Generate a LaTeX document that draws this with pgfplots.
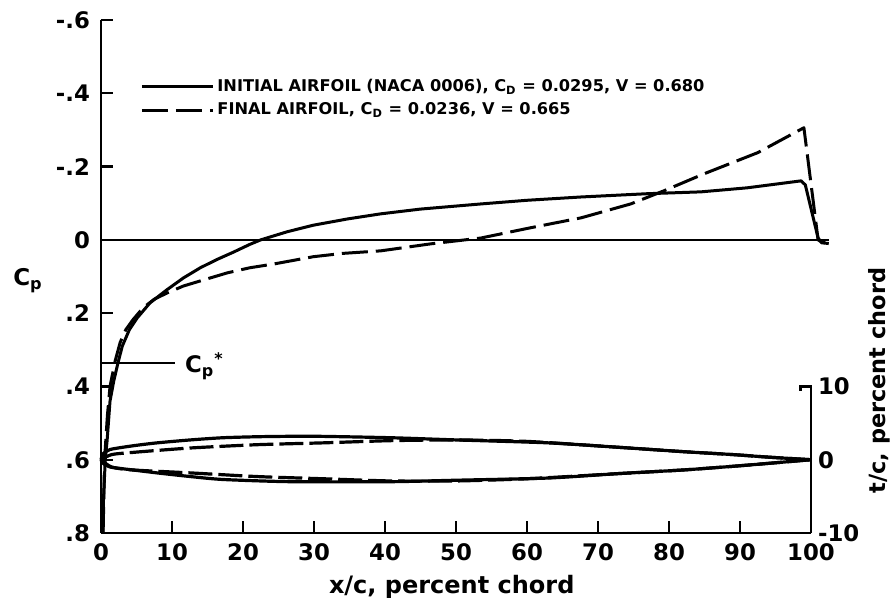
\documentclass[border=0pt]{standalone}
\usepackage{fontspec}
\setmainfont{DejaVu Sans}
\usepackage{pgfplots}
\pgfplotsset{compat=1.18}
\begin{document}
\begin{tikzpicture}
\useasboundingbox (-50.5pt,-35.5pt) rectangle (396.5pt,266.5pt);
\begin{axis}[
  at={(0,0)}, anchor=south west,
  scale only axis, width=355pt, height=256.5pt,
  xmin=0, xmax=100, ymin=-0.6, ymax=0.8, y dir=reverse,
  axis x line=bottom, axis y line=left,
  axis line style={-, line width=1.4pt},
  clip=false,
  tick align=inside, major tick length=6pt,
  tick style={line width=1.2pt, black},
  xtick={0,10,...,100}, xticklabels={0,10,20,30,40,50,60,70,80,90,100},
  ytick={-0.6,-0.4,-0.2,0,0.2,0.4,0.6,0.8}, yticklabels={-.6,-.4,-.2,0,.2,.4,.6,.8},
  ticklabel style={font=\bfseries\fontsize{11.4}{13}\selectfont},
  yticklabel style={xshift=-2pt},
  xticklabel style={yshift=-2pt},
  legend style={at={(0.055,0.891)}, anchor=north west, draw=none, fill=none,
    font=\bfseries\fontsize{8.1}{9.5}\selectfont, row sep=1.1pt, inner sep=0pt,
    nodes={inner sep=1.5pt}},
  legend cell align=left,
  legend image code/.code={\draw[#1] (0pt,0pt) -- (35.5pt,0pt);},
]
% initial airfoil Cp
\addplot[black, line width=1.5pt, line join=round] coordinates {
(0.25,0.80) (0.35,0.71) (0.6,0.60) (0.85,0.55) (1.27,0.44) (1.8,0.385) (2.4,0.335)
(3.0,0.29) (4.0,0.245) (5.1,0.213) (6.9,0.172) (9.3,0.136) (11.6,0.104) (14,0.076)
(16.4,0.053) (18.6,0.034) (21,0.012) (22.5,0.0) (26.2,-0.022) (29.9,-0.04) (34.7,-0.057)
(39.4,-0.071) (45,-0.084) (53.5,-0.098) (60,-0.108) (67.6,-0.117) (77,-0.126)
(84.5,-0.131) (91,-0.142) (98.6,-0.161) (99.2,-0.150) (101,-0.005)
(101.5,0.008) (102.5,0.01)};
\addlegendentry{INITIAL AIRFOIL (NACA 0006), C\textsubscript{D} = 0.0295, V = 0.680}
% final airfoil Cp
\addplot[black, line width=1.5pt, line join=round, dash pattern=on 13pt off 4pt] coordinates {
(0.3,0.8) (0.5,0.6) (0.9,0.48) (1.27,0.40) (2.0,0.33) (2.7,0.28) (3.5,0.245)
(4.5,0.218) (5.9,0.186) (7.5,0.162) (9.3,0.145) (11.6,0.126) (14,0.112) (17.8,0.09)
(21,0.076) (24.3,0.066) (29.9,0.046) (34,0.037) (39.4,0.03) (46.4,0.011) (53.5,-0.005)
(60.5,-0.033) (67.6,-0.06) (74.6,-0.098) (79.3,-0.134) (84.9,-0.18) (92.5,-0.238)
(99,-0.306) (101,0) (101.5,0.006) (102.5,0.01)};
\addlegendentry{FINAL AIRFOIL, C\textsubscript{D} = 0.0236, V = 0.665}
% reference lines
\addplot[black, line width=1pt, forget plot] coordinates {(0,0) (102.5,0)};
\addplot[black, line width=1pt, forget plot] coordinates {(0,0.336) (10.4,0.336)};
\node[anchor=west, inner sep=0pt, font=\bfseries\fontsize{11.4}{13}\selectfont] at (axis cs:11.8,0.345) {C\textsubscript{p}\textsuperscript{*}};
\node[font=\bfseries\fontsize{11.5}{13}\selectfont] at ([xshift=-36.5pt]axis cs:0,0.112) {C\textsubscript{p}};
\node[font=\bfseries\fontsize{12}{14}\selectfont] at ([yshift=-27pt]axis cs:49.4,0.8) {x/c, percent chord};
\end{axis}
\begin{axis}[
  at={(0,0)}, anchor=south west,
  scale only axis, width=355pt, height=256.5pt,
  xmin=0, xmax=100, ymin=-10, ymax=60,
  axis x line=none, axis y line*=right,
  y axis line style={draw=none},
  clip=false,
  tick align=inside, major tick length=5pt,
  tick style={line width=1.2pt, black},
  ytick={-10,0,10}, yticklabels={-10,0,10},
  ticklabel style={font=\bfseries\fontsize{11.4}{13}\selectfont},
]
\addplot[black, line width=1.3pt] coordinates {(98.5,9.4) (98.5,10) (100,10) (100,-10)};
% initial airfoil
\addplot[black, line width=1.6pt, smooth, tension=0.4] coordinates {
(0,0) (0.3,0.8) (1.3,1.4) (4.5,1.9) (7.9,2.3) (12.6,2.7) (17.2,3.0) (22.8,3.15) (30,3.2)
(40.8,3.0) (50,2.7) (63,2.3) (72.8,1.7) (82,1.1) (89,0.7) (94,0.35) (100,0)};
\addplot[black, line width=1.6pt, smooth, tension=0.4] coordinates {
(0,0) (0.3,-0.5) (1.3,-1.0) (4.5,-1.4) (7.9,-1.8) (12.6,-2.3) (17.2,-2.7) (26.7,-3.0)
(40.8,-3.0) (50,-2.8) (63,-2.5) (72.8,-1.9) (82,-1.4) (89,-0.9) (94,-0.5) (100,0)};
% final airfoil
\addplot[black, line width=1.6pt, smooth, tension=0.4, dash pattern=on 12pt off 3pt] coordinates {
(0,0) (1.5,0.7) (4.5,1.0) (12.6,1.6) (22,2.05) (31.3,2.3) (40.8,2.6) (50,2.7) (60,2.5)
(72.8,1.7) (82,1.1) (89,0.7) (94,0.35) (100,0)};
\addplot[black, line width=1.6pt, smooth, tension=0.4, dash pattern=on 12pt off 3pt] coordinates {
(0,0) (1.5,-1.0) (4.5,-1.4) (12.6,-1.8) (22,-2.3) (31.3,-2.6) (40.8,-2.9) (50,-2.9)
(60,-2.6) (72.8,-1.9) (82,-1.4) (89,-0.9) (94,-0.5) (100,0)};
\node[rotate=90, font=\bfseries\fontsize{11.2}{13}\selectfont] at ([xshift=34pt]axis cs:100,10.8) {t/c, percent chord};
\end{axis}
\end{tikzpicture}
\end{document}
